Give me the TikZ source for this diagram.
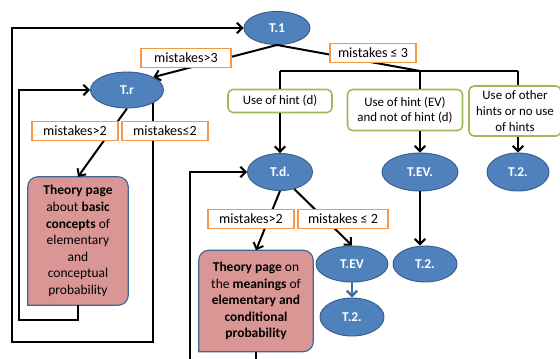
\documentclass[tikz,border=0pt]{standalone}
\usepackage{fontspec}
\setmainfont{Carlito}
\usetikzlibrary{arrows.meta, shapes.geometric, backgrounds}
\definecolor{stateblue}{RGB}{79, 129, 189}
\definecolor{stateline}{RGB}{56, 93, 138}
\definecolor{condorange}{RGB}{247, 150, 70}
\definecolor{hintgreen}{RGB}{155, 187, 89}
\definecolor{pagepink}{RGB}{217, 150, 148}

\begin{document}
\begin{tikzpicture}[
      x=0.03cm, y=-0.03cm,
      state/.style={ellipse, draw=stateline, fill=stateblue, line width=0.8pt, inner sep=0pt, text=white, font=\fontsize{11.5}{13}\selectfont\bfseries},
      cond/.style={rectangle, draw=condorange, fill=white, line width=1.3pt, inner sep=0pt, minimum height=0.57cm, font=\fontsize{12}{14}\selectfont},
      hint/.style={rectangle, draw=hintgreen, fill=white, line width=1.3pt, rounded corners=0.15cm, inner sep=0pt, align=center, font=\fontsize{11}{13.3}\selectfont},
      page/.style={rectangle, inner sep=0pt, align=center, font=\fontsize{11.5}{14.2}\selectfont},
      pagebox/.style={draw=stateblue!80!black, fill=pagepink, line width=1pt},
      line/.style={line width=1.7pt},
      arr/.style={line, -{Straight Barb[length=4.5pt, width=9pt]}}
    ]
      \useasboundingbox (0,0) rectangle (560,358);
      \clip (0,0) rectangle (560,358);

      % states
      \node[state, minimum width=1.98cm, minimum height=0.99cm] (t1) at (277,28) {T.1};
      \node[state, minimum width=2.19cm, minimum height=1.08cm] (tr) at (127,90) {T.r};
      \node[state, minimum width=1.95cm, minimum height=1.11cm] (td) at (280,172) {T.d.};
      \node[state, minimum width=2.28cm, minimum height=1.14cm] (tev1) at (420,172) {T.EV.};
      \node[state, minimum width=1.86cm, minimum height=1.14cm] (t2a) at (518,172) {T.2.};
      \node[state, minimum width=2.16cm, minimum height=1.08cm] (tev2) at (352,264) {T.EV};
      \node[state, minimum width=1.92cm, minimum height=1.08cm] (t2b) at (425,264) {T.2.};
      \node[state, minimum width=1.92cm, minimum height=1.14cm] (t2c) at (352,317) {T.2.};

      % hint boxes
      \node[hint, minimum width=3.12cm, minimum height=0.69cm] (hd) at (280,101) {Use of hint (d)};
      \node[hint, minimum width=3.45cm, minimum height=1.23cm] (hev) at (405,110) {Use of hint (EV)\\and not of hint (d)};
      \node[hint, minimum width=2.76cm, minimum height=1.5cm] (hoth) at (515,111) {Use of other\\hints or no use\\of hints};

      % theory pages
      \node[page, minimum width=3.0cm, minimum height=3.84cm] (tp1) at (78,241)
        {\textbf{Theory page}\\about \textbf{basic}\\\textbf{concepts} of\\elementary\\and\\conceptual\\probability};
      \node[page, minimum width=3.42cm, minimum height=3.03cm] (tp2) at (256,301)
        {\textbf{Theory page} on\\the \textbf{meanings} of\\\textbf{elementary and}\\\textbf{conditional}\\\textbf{probability}};
      \begin{scope}[on background layer]
        \foreach \p in {tp1, tp2}
          \draw[pagebox] (\p.south west) [rounded corners=0.3cm] -- (\p.north west) -- (\p.north east) -- (\p.south east) [sharp corners] -- cycle;
      \end{scope}

      \coordinate (busl) at (280,71);
      \coordinate (busm) at (420,71);
      \coordinate (busr) at (518,71);
      \coordinate (oloop) at (12,342);
      \coordinate (iloop) at (19,320);
      \coordinate (dloop) at (190,372);

      % connectors
      \draw[arr] (t1.south) -- (tr.26);
      \draw[line] (t1.south) -- (busm);
      \draw[line] (busl) -- (busr);
      \draw[line] (busl) -- (hd.north);
      \draw[line] (busm) -- (busm |- hev.north);
      \draw[line] (busr) -- (busr |- hoth.north);
      \draw[arr] (hd) -- (td);
      \draw[arr] (hev.south -| tev1) -- (tev1);
      \draw[arr] (hoth.south -| t2a) -- (t2a);
      \draw[arr] (tev1) -- (tev1.south |- t2b.north);
      \draw[arr] (tr.south) -- (tp1.north);
      \draw[arr] (tr.-26) |- (oloop) |- (t1.west);
      \draw[arr] (tp1.south) |- (iloop) |- (tr.west);
      \draw[arr] (td.south) -- (tp2.north);
      \draw[arr] (td.-50) -- (tev2.north);
      \draw[arr] (tp2.south) |- (dloop) |- (td.west);
      \draw[arr, draw=stateblue!85!black, line width=2pt] (tev2) -- (t2c);

      % conditions
      \node[cond, minimum width=2.7cm] (m3gt) at (186,58) {mistakes>3};
      \node[cond, minimum width=2.58cm] (m3le) at (373,53) {mistakes ≤ 3};
      \node[cond, minimum width=2.58cm] (m2gtr) at (75,131) {mistakes>2};
      \node[cond, minimum width=2.58cm] (m2ler) at (165,131) {mistakes≤2};
      \node[cond, minimum width=2.58cm] (m2gtd) at (251,219) {mistakes>2};
      \node[cond, minimum width=2.7cm] (m2led) at (343,219) {mistakes ≤ 2};
    \end{tikzpicture}
\end{document}
